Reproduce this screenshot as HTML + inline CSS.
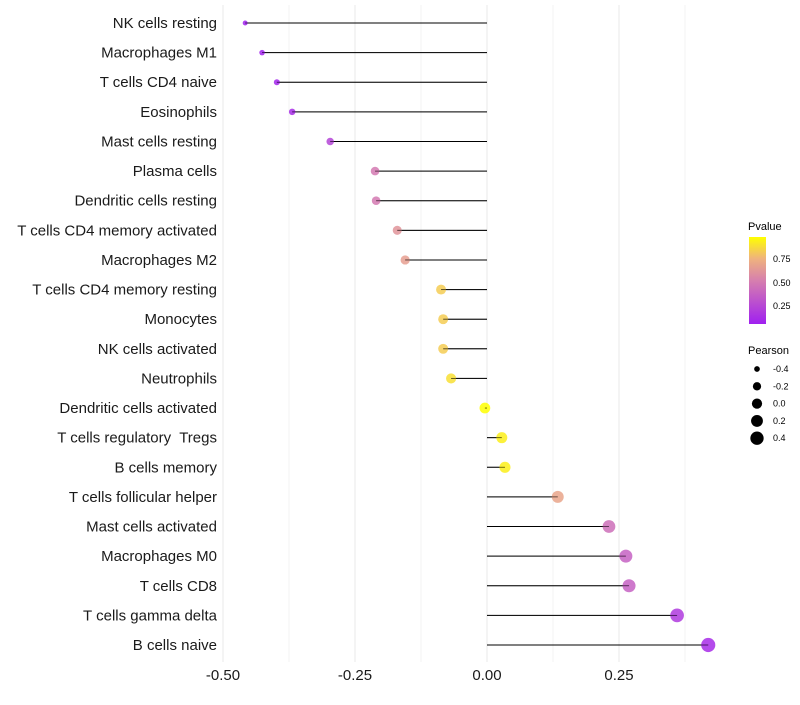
<!DOCTYPE html>
<html><head><meta charset="utf-8"><style>
body{margin:0;background:#fff;font-family:"Liberation Sans",sans-serif;}
svg text{font-family:"Liberation Sans",sans-serif;white-space:pre;}
</style></head><body>
<svg id="chart" width="800" height="700">
<defs><linearGradient id="pg" x1="0" y1="1" x2="0" y2="0">
<stop offset="0" stop-color="#A020F0"/><stop offset="0.5" stop-color="#D67FAE"/><stop offset="0.75" stop-color="#EFB27E"/><stop offset="1" stop-color="#FFFF00"/></linearGradient></defs>
<g id="grid"></g><g id="marks"></g><g id="labels"></g><g id="legend"></g>
</svg>
<script>
const categories=["NK cells resting","Macrophages M1","T cells CD4 naive","Eosinophils","Mast cells resting","Plasma cells","Dendritic cells resting","T cells CD4 memory activated","Macrophages M2","T cells CD4 memory resting","Monocytes","NK cells activated","Neutrophils","Dendritic cells activated","T cells regulatory  Tregs","B cells memory","T cells follicular helper","Mast cells activated","Macrophages M0","T cells CD8","T cells gamma delta","B cells naive"];
const pearson=[-0.458,-0.426,-0.398,-0.369,-0.297,-0.212,-0.210,-0.170,-0.155,-0.087,-0.083,-0.083,-0.068,-0.004,0.028,0.034,0.134,0.231,0.263,0.269,0.360,0.419];
const pvalue=[0.03,0.04,0.05,0.08,0.2,0.47,0.47,0.6,0.65,0.82,0.82,0.82,0.88,1.0,0.93,0.93,0.68,0.42,0.35,0.35,0.15,0.08];
const xTicks=[-0.5,-0.25,0,0.25];
const xTickLabels=["-0.50","-0.25","0.00","0.25"];
const NS="http://www.w3.org/2000/svg";
const x=v=>487+v*528;
const y=i=>23+i*(622/21);
const rs=v=>Math.max(1.6,Math.sqrt(Math.max(0,9+(v+0.4)*50)));
const stops=[[0,[160,32,240]],[0.5,[214,127,174]],[0.75,[239,178,126]],[1,[255,255,0]]];
function col(p){p=Math.max(0,Math.min(1,(p-0.02)/0.96));for(let k=1;k<stops.length;k++){if(p<=stops[k][0]){const a=stops[k-1],b=stops[k],t=(p-a[0])/(b[0]-a[0]);return 'rgb('+a[1].map((c,j)=>Math.round(c+(b[1][j]-c)*t)).join(',')+')';}}return 'rgb(255,255,0)';}
function mk(parent,tag,attrs,txt){const e=document.createElementNS(NS,tag);for(const k in attrs)e.setAttribute(k,attrs[k]);if(txt!==undefined)e.textContent=txt;document.getElementById(parent).appendChild(e);return e;}
[-0.5,-0.375,-0.25,-0.125,0,0.125,0.25,0.375].forEach(v=>{const g=mk('grid','line',{x1:x(v),x2:x(v),y1:5,y2:662,stroke:'#ebebeb','stroke-width':Number.isInteger(v*4)?1.1:0.6});

});
xTicks.forEach((v,i)=>{const t=mk('labels','text',{x:x(v),y:680,'font-size':15,'text-anchor':'middle',fill:'#1a1a1a'},xTickLabels[i]);

});
categories.forEach((c,i)=>{
const t=mk('labels','text',{x:217,y:y(i)+5,'font-size':15,'text-anchor':'end',fill:'#1a1a1a'},c);


const l=mk('marks','line',{x1:x(0),x2:x(pearson[i]),y1:y(i),y2:y(i),stroke:'#000','stroke-width':1});


const d=mk('marks','circle',{cx:x(pearson[i]),cy:y(i),r:rs(pearson[i]),fill:col(pvalue[i]),'fill-opacity':0.85});


const l2=mk('marks','line',{x1:x(0),x2:x(pearson[i]),y1:y(i),y2:y(i),stroke:'#000','stroke-width':0.8,'stroke-opacity':0.6});


});
let e=mk('legend','text',{x:748,y:230,'font-size':11},'Pvalue');


e=mk('legend','rect',{x:749,y:237,width:17,height:87,fill:'url(#pg)'});


[["0.75",262],["0.50",286],["0.25",309]].forEach(a=>{const t=mk('legend','text',{x:773,y:a[1],'font-size':9},a[0]);

});
e=mk('legend','text',{x:748,y:354,'font-size':11},'Pearson');


[-0.4,-0.2,0,0.2,0.4].forEach((v,i)=>{const cy=369+i*17.3;
const c=mk('legend','circle',{cx:757,cy:cy,r:rs(v)*0.95,fill:'#000'});


const t=mk('legend','text',{x:773,y:cy+3,'font-size':9},v===0?'0.0':v.toFixed(1));

});
</script>
</body></html>
